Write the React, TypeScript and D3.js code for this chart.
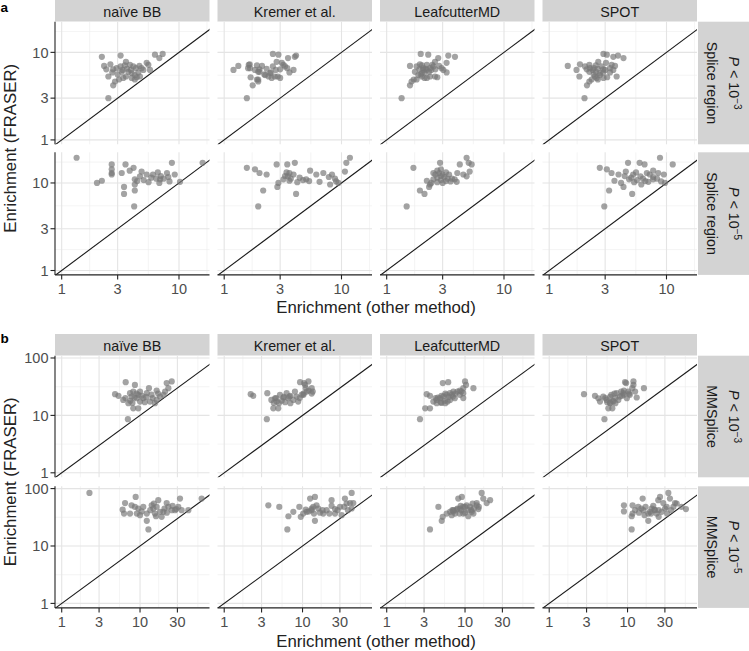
import React from "react";
import * as d3 from "d3";

const methods = ["naïve BB", "Kremer et al.", "LeafcutterMD", "SPOT"];

// ---- Section a, P < 10^-3, Splice region ----
const fraserA3 = [9.6, 9.4, 9.2, 8.9, 8.6, 7.8, 7.6, 7.3, 7.2, 7.2, 7.1, 7.0, 7.0, 6.9, 6.9, 6.6, 6.6, 6.6, 6.5, 6.4, 6.4, 6.3, 6.3, 6.3, 6.3, 6.0, 6.0, 5.9, 5.9, 5.8, 5.6, 5.5, 5.3, 5.3, 5.3, 5.2, 5.1, 5.1, 4.9, 4.9, 4.65, 4.2, 3.0];
const naiveA3 = [7.26, 6.24, 3.18, 2.2, 6.8, 3.53, 5.3, 2.6, 3.82, 5.48, 3.45, 2.3, 4.6, 3.18, 4.08, 2.94, 4.3, 4.8, 3.6, 2.4, 2.75, 3.3, 3.9, 5.66, 4.97, 3.25, 3.7, 2.7, 4.5, 3.95, 3.0, 4.2, 2.5, 3.53, 4.65, 4.36, 3.35, 3.95, 3.08, 4.2, 2.85, 2.75, 2.5];
const kremerA3 = [2.6, 2.9, 4.1, 4.0, 3.5, 2.8, 3.1, 1.65, 1.62, 3.2, 1.9, 1.32, 2.1, 3.3, 2.6, 1.6, 1.66, 3.45, 2.3, 2.0, 3.0, 1.83, 1.2, 3.9, 2.75, 1.95, 2.0, 2.5, 3.6, 2.46, 2.2, 2.24, 2.39, 2.7, 2.86, 1.68, 2.54, 3.0, 1.95, 1.9, 1.95, 1.75, 1.56];
const leafA3 = [1.95, 2.26, 3.35, 3.82, 2.75, 2.58, 3.24, 1.92, 2.2, 2.45, 2.0, 1.58, 2.8, 1.8, 2.5, 2.05, 2.34, 2.94, 2.15, 1.9, 2.6, 2.19, 3.04, 2.4, 2.05, 1.74, 2.3, 2.1, 3.24, 2.0, 1.95, 1.86, 1.99, 2.34, 2.58, 2.7, 2.1, 2.2, 1.8, 1.7, 1.63, 1.58, 1.34];
const spotA3 = [2.9, 3.1, 3.86, 3.52, 4.3, 2.62, 3.05, 1.83, 3.41, 2.2, 2.5, 1.44, 3.64, 2.02, 2.8, 2.23, 3.3, 2.4, 2.6, 2.09, 2.9, 3.52, 1.71, 2.35, 3.0, 2.5, 2.2, 2.89, 3.3, 2.7, 2.4, 2.71, 1.81, 2.45, 3.76, 3.12, 2.54, 2.9, 2.3, 2.6, 2.2, 2.1, 2.0];

// ---- Section a, P < 10^-5, Splice region ----
const fraserA5 = [19.4, 17.0, 17.0, 16.3, 16.3, 14.9, 14.3, 13.8, 13.5, 13.2, 13.0, 13.0, 13.0, 12.5, 12.5, 12.5, 12.5, 12.0, 11.9, 11.7, 11.5, 11.2, 11.2, 11.0, 11.0, 10.8, 10.6, 10.5, 10.4, 10.3, 10.2, 10.0, 10.0, 9.6, 9.0, 8.2, 7.5, 5.4];
const naiveA5 = [1.34, 8.7, 15.9, 2.67, 3.5, 4.1, 2.67, 3.8, 4.8, 6.6, 2.67, 3.25, 7.9, 2.67, 5.3, 6.0, 9.2, 7.0, 4.65, 8.1, 5.8, 6.4, 7.4, 4.2, 6.9, 5.0, 2.2, 4.4, 8.3, 10.2, 5.5, 2.0, 6.8, 4.2, 3.4, 4.2, 3.4, 4.15];
const kremerA5 = [11.8, 4.0, 11.0, 2.8, 3.45, 1.56, 1.83, 5.4, 10.7, 3.4, 3.6, 2.0, 7.0, 2.3, 6.1, 8.3, 3.9, 3.3, 3.5, 7.8, 4.4, 3.7, 8.8, 3.2, 5.0, 4.7, 3.6, 5.3, 9.0, 6.5, 4.2, 9.4, 2.9, 8.0, 2.84, 2.15, 4.1, 1.95];
const leafA5 = [4.8, 2.85, 5.0, 4.2, 5.3, 1.69, 2.9, 2.7, 5.1, 3.2, 2.8, 2.5, 4.0, 2.6, 3.0, 3.4, 4.5, 2.9, 4.8, 3.1, 2.7, 3.3, 3.6, 2.5, 3.8, 2.9, 2.2, 3.2, 3.5, 3.95, 2.7, 2.4, 3.0, 2.34, 2.3, 1.92, 2.1, 1.48];
const spotA5 = [8.8, 4.7, 5.9, 11.3, 6.5, 2.7, 3.1, 7.7, 4.5, 5.5, 3.4, 6.8, 8.5, 3.9, 5.2, 7.2, 9.5, 4.4, 6.0, 7.7, 5.0, 6.3, 8.3, 7.7, 4.8, 5.6, 3.6, 6.6, 9.0, 7.0, 5.3, 9.7, 4.1, 6.1, 4.3, 3.24, 5.1, 2.95];

// ---- Section b, P < 10^-3, MMSplice ----
const fraserB3 = [39, 37.9, 36.5, 34, 29.8, 29.8, 27.1, 26, 26, 26, 24.4, 24.4, 24, 24, 23.4, 23, 22.8, 22.8, 22, 21.9, 21.3, 21.3, 21, 20.5, 20, 20, 19.9, 19.9, 18.6, 18.6, 18, 17.4, 17.4, 17, 16.5, 16.3, 16.3, 13.3, 13.3, 8.6];
const naiveB3 = [25.4, 6.56, 21.9, 8.6, 13, 23, 16.3, 8.2, 20.9, 10, 7.45, 12.2, 9, 17, 4.8, 14, 9.5, 19.9, 10.5, 5.3, 7.8, 18, 12, 8.5, 6.5, 14.5, 9.1, 11, 6.1, 16.3, 7.5, 10, 13.4, 11.5, 8, 7.1, 15.5, 8.2, 9.5, 7.0];
const kremerB3 = [11.9, 9.3, 10.5, 10.8, 13.1, 11.0, 12.0, 11.3, 8.0, 13.5, 3.55, 6.27, 10.3, 13.1, 2.18, 9.8, 5.15, 10.3, 7.0, 2.35, 8.4, 6.8, 5.8, 5.7, 4.6, 9.2, 4.45, 6.59, 4.0, 7.63, 5.42, 4.67, 8.8, 6.0, 4.3, 5.0, 7.0, 4.9, 4.24, 3.5];
const leafB3 = [10.0, 6.1, 5.2, 10.3, 12.8, 9.5, 8.6, 7.1, 8.0, 9.0, 6.44, 9.5, 5.6, 7.5, 3.24, 6.8, 5.83, 8.6, 5.0, 3.57, 5.3, 7.0, 6.2, 4.5, 4.2, 9.5, 4.8, 7.4, 4.35, 6.44, 5.5, 3.94, 6.0, 4.9, 5.0, 4.35, 5.6, 3.1, 3.57, 2.66];
const spotB3 = [11.9, 9.3, 9.6, 11.9, 16.2, 11.5, 9.0, 10.2, 8.3, 12.5, 7.26, 8.8, 10.5, 6.8, 2.78, 9.0, 10.7, 6.2, 8.5, 3.84, 4.9, 8.0, 6.0, 13.1, 5.2, 7.0, 4.24, 9.8, 5.42, 7.63, 6.5, 4.45, 6.59, 5.5, 5.97, 7.0, 6.0, 5.69, 6.4, 5.07];

// ---- Section b, P < 10^-5, MMSplice ----
const fraserB5 = [84, 71.6, 67, 67, 62.7, 56, 56, 55, 51, 51, 50, 48, 48, 48, 48, 48, 45, 45, 44.9, 44, 43, 42, 42, 42, 42, 42, 40, 39.3, 39.3, 38, 36.7, 36.7, 36.7, 36.7, 36.7, 34.4, 33, 32.2, 27.4, 19.4];
const naiveB5 = [2.26, 8.8, 32.4, 61.2, 17.1, 6.44, 21.9, 15, 7.8, 14.1, 26, 8.6, 11, 16.3, 23, 30.8, 20.5, 9.5, 14.8, 29, 6.0, 13.5, 25.4, 28, 34, 41.4, 10.5, 18, 19.9, 22, 6.25, 7.45, 9.1, 12.2, 15.5, 10, 16, 18.9, 12.2, 12.8];
const kremerB5 = [42.4, 14.4, 12.5, 34.8, 23.5, 44.5, 40.4, 36.6, 3.66, 15.1, 23.5, 5.05, 9.1, 13.7, 30.1, 34, 15.9, 42.4, 13.1, 26, 11, 13.1, 20.3, 18, 28, 38, 12, 7.63, 11.3, 16.7, 10.2, 18.4, 26, 14, 22, 31.6, 6.6, 9.5, 14.4, 6.4];
const leafB5 = [16.3, 9.1, 8.2, 17.1, 20.9, 18.9, 14.1, 12.5, 10.5, 14.1, 8.8, 4.57, 9.5, 10.0, 11.6, 15.0, 8.6, 13.0, 8.0, 14.8, 7.83, 7.1, 9.0, 11.0, 12.0, 6.9, 7.1, 6.44, 12.2, 10.0, 5.83, 7.45, 9.5, 12.8, 8.5, 6.76, 11.0, 5.19, 5.04, 3.57];
const spotB5 = [33.2, 26, 15.6, 34.8, 24.7, 28.6, 40.4, 42.4, 9.0, 11.6, 21.3, 13.7, 31.6, 38.5, 49, 17, 20.3, 30.1, 15, 55.7, 22, 15.9, 22.4, 25, 36, 12.5, 9.0, 19.4, 27.3, 14, 11.6, 18.4, 23.5, 32, 20, 16.5, 11.3, 25, 18.4, 11.3];

// axis breaks (major); minor grid lines fall at log-midpoints
const breaksA = [0.3, 1, 3, 10, 30];
const breaksBx = [0.3, 1, 3, 10, 30, 100];
const breaksBy = [0.1, 1, 10, 100, 1000];
const domainAx = [0.877, 18.2];
const domainAy = [0.891, 22.4];
const domainBx = [0.821, 77.1];
const domainBy = [0.835, 109.6];

const sections = [
  {
    tag: "a", stripTop: 0, rowTops: [21.7, 152.3], rowH: 122.6, xTitleY: 312.5,
    xDomain: domainAx, yDomain: domainAy, xBreaks: breaksA, yBreaks: breaksA,
    rows: [
      { fraser: fraserA3, others: [naiveA3, kremerA3, leafA3, spotA3], exp: "−3", annot: "Splice region" },
      { fraser: fraserA5, others: [naiveA5, kremerA5, leafA5, spotA5], exp: "−5", annot: "Splice region" },
    ],
  },
  {
    tag: "b", stripTop: 334, rowTops: [355.7, 486.3], rowH: 121.6, xTitleY: 646.5,
    xDomain: domainBx, yDomain: domainBy, xBreaks: breaksBx, yBreaks: breaksBy,
    rows: [
      { fraser: fraserB3, others: [naiveB3, kremerB3, leafB3, spotB3], exp: "−3", annot: "MMSplice" },
      { fraser: fraserB5, others: [naiveB5, kremerB5, leafB5, spotB5], exp: "−5", annot: "MMSplice" },
    ],
  },
];

const FONT = "'Liberation Sans', Arial, Helvetica, sans-serif";
const X0 = 55, PW = 154.5, STEP = 162.5, STRIP_H = 21.7;
const RSTRIP_X = 698, RSTRIP_W = 51;
const STRIP_FILL = "#d3d3d3";

const inDom = (v: number, d: number[]) => v >= d[0] && v <= d[1];

function Panel({ s, si, ri, ci }: any) {
  const row = s.rows[ri];
  const x0 = X0 + ci * STEP;
  const y0 = s.rowTops[ri];
  const h = s.rowH;
  const xs = d3.scaleLog().domain(s.xDomain).range([x0, x0 + PW]);
  const ys = d3.scaleLog().domain(s.yDomain).range([y0 + h, y0]);
  const minors = (b: number[]) => b.slice(0, -1).map((v, i) => Math.sqrt(v * b[i + 1]));
  const xMaj = s.xBreaks.filter((v: number) => inDom(v, s.xDomain));
  const yMaj = s.yBreaks.filter((v: number) => inDom(v, s.yDomain));
  const xMin = minors(s.xBreaks).filter((v) => inDom(v, s.xDomain));
  const yMin = minors(s.yBreaks).filter((v) => inDom(v, s.yDomain));
  const clipId = `clip-${si}-${ri}-${ci}`;
  const xv = row.others[ci];
  const diag = d3.line<number>().x((v) => xs(v)).y((v) => ys(v))([0.3, 300]);
  return (
    <g>
      <defs>
        <clipPath id={clipId}>
          <rect x={x0} y={y0} width={PW} height={h} />
        </clipPath>
      </defs>
      <rect x={x0} y={y0} width={PW} height={h} fill="#fff" />
      {xMin.map((v) => (
        <line key={"xm" + v} x1={xs(v)} x2={xs(v)} y1={y0} y2={y0 + h} stroke="#ececec" strokeWidth={0.6} />
      ))}
      {yMin.map((v) => (
        <line key={"ym" + v} x1={x0} x2={x0 + PW} y1={ys(v)} y2={ys(v)} stroke="#ececec" strokeWidth={0.6} />
      ))}
      {xMaj.map((v: number) => (
        <line key={"xM" + v} x1={xs(v)} x2={xs(v)} y1={y0} y2={y0 + h} stroke="#e4e4e4" strokeWidth={1.1} />
      ))}
      {yMaj.map((v: number) => (
        <line key={"yM" + v} x1={x0} x2={x0 + PW} y1={ys(v)} y2={ys(v)} stroke="#e4e4e4" strokeWidth={1.1} />
      ))}
      <g clipPath={`url(#${clipId})`}>
        <path d={diag || ""} stroke="#1a1a1a" strokeWidth={1.1} fill="none" />
        {row.fraser.map((yv: number, i: number) => (
          <circle key={i} cx={xs(xv[i])} cy={ys(yv)} r={3.1} fill="#777" fillOpacity={0.68} />
        ))}
      </g>
      {ci === 0 && (
        <g>
          <line x1={x0} x2={x0} y1={y0} y2={y0 + h} stroke="#222" strokeWidth={1.1} />
          {yMaj.map((v: number) => (
            <g key={"yt" + v}>
              <line x1={x0 - 4.5} x2={x0} y1={ys(v)} y2={ys(v)} stroke="#222" strokeWidth={1.1} />
              <text x={x0 - 6.5} y={ys(v)} dy="0.36em" textAnchor="end" fontSize={14.5} fill="#4d4d4d" fontFamily={FONT}>
                {String(v)}
              </text>
            </g>
          ))}
        </g>
      )}
      {ri === 1 && (
        <g>
          <line x1={x0} x2={x0 + PW} y1={y0 + h} y2={y0 + h} stroke="#222" strokeWidth={1.1} />
          {xMaj.map((v: number) => (
            <g key={"xt" + v}>
              <line x1={xs(v)} x2={xs(v)} y1={y0 + h} y2={y0 + h + 4.5} stroke="#222" strokeWidth={1.1} />
              <text x={xs(v)} y={y0 + h + 19} textAnchor="middle" fontSize={14.5} fill="#4d4d4d" fontFamily={FONT}>
                {String(v)}
              </text>
            </g>
          ))}
        </g>
      )}
    </g>
  );
}

export default function App() {
  return (
    <svg width={749} height={651} style={{ position: "absolute", left: 0, top: 0, background: "#fff" }} fontFamily={FONT}>
      <rect x={0} y={0} width={749} height={651} fill="#fff" />
      {sections.map((s, si) => {
        const top = s.rowTops[0];
        const bottom = s.rowTops[1] + s.rowH;
        return (
          <g key={s.tag}>
            <text x={0.5} y={s.stripTop + (si === 0 ? 12.3 : 9)} fontSize={13.5} fontWeight="bold" fill="#000">
              {s.tag}
            </text>
            {methods.map((m, ci) => (
              <g key={m}>
                <rect x={X0 + ci * STEP} y={s.stripTop} width={PW} height={STRIP_H} fill={STRIP_FILL} />
                <text x={X0 + ci * STEP + PW / 2} y={s.stripTop + 16.6} textAnchor="middle" fontSize={14.3} fill="#1a1a1a">
                  {m}
                </text>
              </g>
            ))}
            {s.rows.map((row, ri) => {
              const cy = s.rowTops[ri] + s.rowH / 2;
              const gx = 717.5;
              return (
                <g key={ri}>
                  {methods.map((m, ci) => (
                    <Panel key={m} s={s} si={si} ri={ri} ci={ci} />
                  ))}
                  <rect x={RSTRIP_X} y={s.rowTops[ri]} width={RSTRIP_W} height={s.rowH} fill={STRIP_FILL} />
                  <g transform={`translate(${gx},${cy}) rotate(90)`}>
                    <text x={0} y={-11} textAnchor="middle" fontSize={14.3} fill="#1a1a1a">
                      <tspan fontStyle="italic">P</tspan>
                      <tspan>{" < 10"}</tspan>
                      <tspan fontSize={10} dy={-5.5}>{row.exp}</tspan>
                    </text>
                    <text x={0} y={10.6} textAnchor="middle" fontSize={14.3} fill="#1a1a1a">
                      {row.annot}
                    </text>
                  </g>
                </g>
              );
            })}
            <text transform={`translate(16.2,${(top + bottom) / 2}) rotate(-90)`} textAnchor="middle" fontSize={16.8} fill="#222">
              Enrichment (FRASER)
            </text>
            <text x={X0 + (3 * STEP + PW) / 2} y={s.xTitleY} textAnchor="middle" fontSize={16.8} fill="#222">
              Enrichment (other method)
            </text>
          </g>
        );
      })}
    </svg>
  );
}
